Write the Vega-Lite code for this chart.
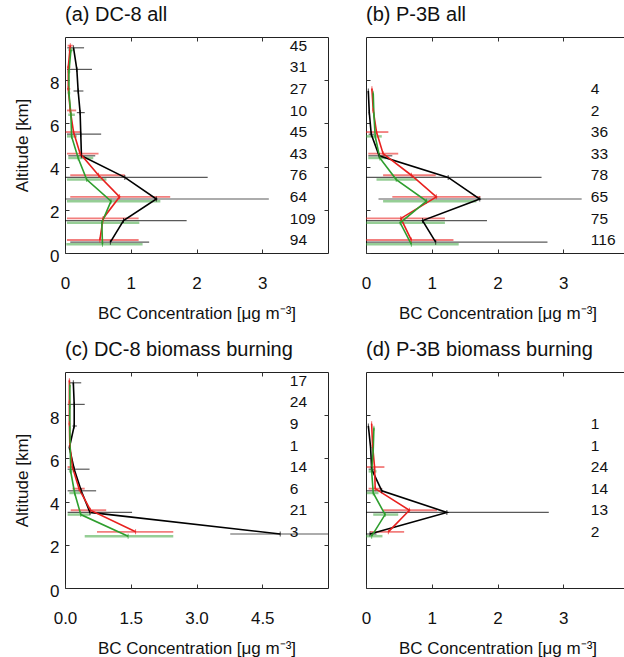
{
  "$schema": "https://vega.github.io/schema/vega-lite/v6.json",
  "padding": {"left": 13, "top": 4, "right": 0, "bottom": 0},
  "datasets": {
    "a": [
      {"s": "black", "alt": 9.5, "v": 0.13, "lo": 0.035, "hi": 0.29},
      {"s": "black", "alt": 8.5, "v": 0.18, "lo": 0.03, "hi": 0.41},
      {"s": "black", "alt": 7.5, "v": 0.2, "lo": 0.13, "hi": 0.28},
      {"s": "black", "alt": 6.5, "v": 0.23, "lo": 0.18, "hi": 0.3},
      {"s": "black", "alt": 5.5, "v": 0.24, "lo": 0.03, "hi": 0.55},
      {"s": "black", "alt": 4.5, "v": 0.25, "lo": 0.05, "hi": 0.46},
      {"s": "black", "alt": 3.5, "v": 0.91, "lo": 0.0, "hi": 2.17},
      {"s": "black", "alt": 2.5, "v": 1.39, "lo": 0.0, "hi": 3.1},
      {"s": "black", "alt": 1.5, "v": 0.89, "lo": 0.0, "hi": 1.85},
      {"s": "black", "alt": 0.5, "v": 0.69, "lo": 0.08, "hi": 1.28},
      {"s": "red", "alt": 9.6, "v": 0.08, "lo": 0.04, "hi": 0.12},
      {"s": "red", "alt": 8.6, "v": 0.05, "lo": 0.03, "hi": 0.08},
      {"s": "red", "alt": 7.6, "v": 0.05, "lo": 0.03, "hi": 0.08},
      {"s": "red", "alt": 6.6, "v": 0.08, "lo": 0.03, "hi": 0.17},
      {"s": "red", "alt": 5.6, "v": 0.13, "lo": 0.01, "hi": 0.24},
      {"s": "red", "alt": 4.6, "v": 0.23, "lo": 0.03, "hi": 0.51},
      {"s": "red", "alt": 3.6, "v": 0.51, "lo": 0.08, "hi": 0.91},
      {"s": "red", "alt": 2.6, "v": 0.83, "lo": 0.08, "hi": 1.6},
      {"s": "red", "alt": 1.6, "v": 0.58, "lo": 0.03, "hi": 1.12},
      {"s": "red", "alt": 0.6, "v": 0.53, "lo": 0.03, "hi": 1.12},
      {"s": "green", "alt": 9.4, "v": 0.09, "lo": 0.05, "hi": 0.12},
      {"s": "green", "alt": 8.4, "v": 0.06, "lo": 0.04, "hi": 0.08},
      {"s": "green", "alt": 7.4, "v": 0.06, "lo": 0.04, "hi": 0.08},
      {"s": "green", "alt": 6.4, "v": 0.09, "lo": 0.05, "hi": 0.15},
      {"s": "green", "alt": 5.4, "v": 0.1, "lo": 0.03, "hi": 0.18},
      {"s": "green", "alt": 4.4, "v": 0.2, "lo": 0.05, "hi": 0.43},
      {"s": "green", "alt": 3.4, "v": 0.33, "lo": 0.03, "hi": 0.63},
      {"s": "green", "alt": 2.4, "v": 0.7, "lo": 0.03, "hi": 1.45},
      {"s": "green", "alt": 1.4, "v": 0.56, "lo": 0.03, "hi": 1.13},
      {"s": "green", "alt": 0.4, "v": 0.57, "lo": 0.02, "hi": 1.18}
    ],
    "an": [
      {"alt": 9.5, "n": "45"}, {"alt": 8.5, "n": "31"}, {"alt": 7.5, "n": "27"},
      {"alt": 6.5, "n": "10"}, {"alt": 5.5, "n": "45"}, {"alt": 4.5, "n": "43"},
      {"alt": 3.5, "n": "76"}, {"alt": 2.5, "n": "64"}, {"alt": 1.5, "n": "109"},
      {"alt": 0.5, "n": "94"}
    ],
    "b": [
      {"s": "black", "alt": 7.5, "v": 0.035, "lo": 0.03, "hi": 0.04},
      {"s": "black", "alt": 6.5, "v": 0.05, "lo": 0.04, "hi": 0.06},
      {"s": "black", "alt": 5.5, "v": 0.08, "lo": 0.04, "hi": 0.12},
      {"s": "black", "alt": 4.5, "v": 0.2, "lo": 0.035, "hi": 0.4},
      {"s": "black", "alt": 3.5, "v": 1.25, "lo": 0.0, "hi": 2.67},
      {"s": "black", "alt": 2.5, "v": 1.73, "lo": 0.19, "hi": 3.28},
      {"s": "black", "alt": 1.5, "v": 0.86, "lo": 0.0, "hi": 1.84},
      {"s": "black", "alt": 0.5, "v": 1.06, "lo": 0.0, "hi": 2.76},
      {"s": "red", "alt": 7.6, "v": 0.09, "lo": 0.08, "hi": 0.1},
      {"s": "red", "alt": 6.6, "v": 0.11, "lo": 0.1, "hi": 0.12},
      {"s": "red", "alt": 5.6, "v": 0.16, "lo": 0.0, "hi": 0.34},
      {"s": "red", "alt": 4.6, "v": 0.26, "lo": 0.035, "hi": 0.49},
      {"s": "red", "alt": 3.6, "v": 0.69, "lo": 0.26, "hi": 1.06},
      {"s": "red", "alt": 2.6, "v": 1.07, "lo": 0.4, "hi": 1.74},
      {"s": "red", "alt": 1.6, "v": 0.53, "lo": 0.0, "hi": 1.2},
      {"s": "red", "alt": 0.6, "v": 0.69, "lo": 0.0, "hi": 1.33},
      {"s": "green", "alt": 7.4, "v": 0.11, "lo": 0.1, "hi": 0.12},
      {"s": "green", "alt": 6.4, "v": 0.12, "lo": 0.11, "hi": 0.13},
      {"s": "green", "alt": 5.4, "v": 0.14, "lo": 0.0, "hi": 0.24},
      {"s": "green", "alt": 4.4, "v": 0.21, "lo": 0.035, "hi": 0.31},
      {"s": "green", "alt": 3.4, "v": 0.46, "lo": 0.16, "hi": 0.77},
      {"s": "green", "alt": 2.4, "v": 0.92, "lo": 0.26, "hi": 1.68},
      {"s": "green", "alt": 1.4, "v": 0.52, "lo": 0.0, "hi": 1.2},
      {"s": "green", "alt": 0.4, "v": 0.69, "lo": 0.0, "hi": 1.41}
    ],
    "bn": [
      {"alt": 7.5, "n": "4"}, {"alt": 6.5, "n": "2"}, {"alt": 5.5, "n": "36"},
      {"alt": 4.5, "n": "33"}, {"alt": 3.5, "n": "78"}, {"alt": 2.5, "n": "65"},
      {"alt": 1.5, "n": "75"}, {"alt": 0.5, "n": "116"}
    ],
    "c": [
      {"s": "black", "alt": 9.5, "v": 0.19, "lo": 0.1, "hi": 0.37},
      {"s": "black", "alt": 8.5, "v": 0.21, "lo": 0.06, "hi": 0.45},
      {"s": "black", "alt": 7.5, "v": 0.21, "lo": 0.17, "hi": 0.27},
      {"s": "black", "alt": 6.5, "v": 0.1, "lo": 0.09, "hi": 0.11},
      {"s": "black", "alt": 5.5, "v": 0.21, "lo": 0.06, "hi": 0.56},
      {"s": "black", "alt": 4.5, "v": 0.37, "lo": 0.06, "hi": 0.71},
      {"s": "black", "alt": 3.5, "v": 0.57, "lo": 0.06, "hi": 1.53},
      {"s": "black", "alt": 2.5, "v": 4.91, "lo": 3.77, "hi": 6.3},
      {"s": "red", "alt": 9.6, "v": 0.1, "lo": 0.08, "hi": 0.12},
      {"s": "red", "alt": 8.6, "v": 0.1, "lo": 0.08, "hi": 0.12},
      {"s": "red", "alt": 7.6, "v": 0.1, "lo": 0.08, "hi": 0.12},
      {"s": "red", "alt": 6.6, "v": 0.11, "lo": 0.09, "hi": 0.13},
      {"s": "red", "alt": 5.6, "v": 0.17, "lo": 0.06, "hi": 0.21},
      {"s": "red", "alt": 4.6, "v": 0.32, "lo": 0.17, "hi": 0.45},
      {"s": "red", "alt": 3.6, "v": 0.58, "lo": 0.13, "hi": 0.94},
      {"s": "red", "alt": 2.6, "v": 1.61, "lo": 0.73, "hi": 2.47},
      {"s": "green", "alt": 9.4, "v": 0.11, "lo": 0.1, "hi": 0.12},
      {"s": "green", "alt": 8.4, "v": 0.11, "lo": 0.1, "hi": 0.12},
      {"s": "green", "alt": 7.4, "v": 0.11, "lo": 0.1, "hi": 0.12},
      {"s": "green", "alt": 6.4, "v": 0.12, "lo": 0.11, "hi": 0.13},
      {"s": "green", "alt": 5.4, "v": 0.13, "lo": 0.09, "hi": 0.17},
      {"s": "green", "alt": 4.4, "v": 0.22, "lo": 0.1, "hi": 0.36},
      {"s": "green", "alt": 3.4, "v": 0.36, "lo": 0.06, "hi": 0.58},
      {"s": "green", "alt": 2.4, "v": 1.44, "lo": 0.45, "hi": 2.47}
    ],
    "cn": [
      {"alt": 9.5, "n": "17"}, {"alt": 8.5, "n": "24"}, {"alt": 7.5, "n": "9"},
      {"alt": 6.5, "n": "1"}, {"alt": 5.5, "n": "14"}, {"alt": 4.5, "n": "6"},
      {"alt": 3.5, "n": "21"}, {"alt": 2.5, "n": "3"}
    ],
    "d": [
      {"s": "black", "alt": 7.5, "v": 0.036, "lo": 0.03, "hi": 0.04},
      {"s": "black", "alt": 6.5, "v": 0.07, "lo": 0.06, "hi": 0.08},
      {"s": "black", "alt": 5.5, "v": 0.086, "lo": 0.04, "hi": 0.14},
      {"s": "black", "alt": 4.5, "v": 0.24, "lo": 0.01, "hi": 0.26},
      {"s": "black", "alt": 3.5, "v": 1.23, "lo": 0.0, "hi": 2.78},
      {"s": "black", "alt": 2.5, "v": 0.06, "lo": 0.0, "hi": 0.16},
      {"s": "red", "alt": 7.6, "v": 0.086, "lo": 0.08, "hi": 0.09},
      {"s": "red", "alt": 6.6, "v": 0.1, "lo": 0.09, "hi": 0.11},
      {"s": "red", "alt": 5.6, "v": 0.13, "lo": 0.01, "hi": 0.28},
      {"s": "red", "alt": 4.6, "v": 0.14, "lo": 0.04, "hi": 0.24},
      {"s": "red", "alt": 3.6, "v": 0.66, "lo": 0.26, "hi": 1.08},
      {"s": "red", "alt": 2.6, "v": 0.34, "lo": 0.06, "hi": 0.58},
      {"s": "green", "alt": 7.4, "v": 0.12, "lo": 0.11, "hi": 0.13},
      {"s": "green", "alt": 6.4, "v": 0.11, "lo": 0.1, "hi": 0.12},
      {"s": "green", "alt": 5.4, "v": 0.086, "lo": 0.04, "hi": 0.16},
      {"s": "green", "alt": 4.4, "v": 0.11, "lo": 0.01, "hi": 0.19},
      {"s": "green", "alt": 3.4, "v": 0.29, "lo": 0.11, "hi": 0.49},
      {"s": "green", "alt": 2.4, "v": 0.086, "lo": 0.0, "hi": 0.25}
    ],
    "dn": [
      {"alt": 7.5, "n": "1"}, {"alt": 6.5, "n": "1"}, {"alt": 5.5, "n": "24"},
      {"alt": 4.5, "n": "14"}, {"alt": 3.5, "n": "13"}, {"alt": 2.5, "n": "2"}
    ]
  },
  "vconcat": [
    {
      "hconcat": [
        {
          "title": "(a) DC-8 all",
          "width": 263, "height": 216,
          "layer": [
            {"data": {"name": "a"}, "mark": {"type": "rule", "clip": true},
             "encoding": {
               "y": {"field": "alt", "type": "quantitative", "scale": {"domain": [0, 10]}, "axis": {"orient": "left", "values": [0, 2, 4, 6, 8], "title": "Altitude [km]", "labelPadding": 10, "titlePadding": 18, "labelOffset": 3}},
               "x": {"field": "lo", "type": "quantitative", "scale": {"domain": [0, 4]}, "axis": {"orient": "bottom", "values": [0, 1, 2, 3], "title": "BC Concentration [μg m⁻³]", "labelPadding": 26, "titlePadding": 14, "labelFlush": false}},
               "x2": {"field": "hi"},
               "color": {"field": "s", "type": "nominal", "scale": {"domain": ["black", "red", "green"], "range": ["#000000", "#e8201e", "#2e9e2e"]}, "legend": null},
               "opacity": {"field": "s", "type": "nominal", "scale": {"domain": ["black", "red", "green"], "range": [0.65, 0.5, 0.5]}, "legend": null},
               "strokeWidth": {"field": "s", "type": "nominal", "scale": {"domain": ["black", "red", "green"], "range": [1.2, 2.5, 2.5]}, "legend": null}
             }},
            {"data": {"name": "a"}, "mark": {"type": "line", "strokeWidth": 1.6, "clip": true},
             "encoding": {
               "y": {"field": "alt", "type": "quantitative", "axis": {"orient": "right", "values": [2, 4, 6, 8], "labels": false, "title": null}},
               "x": {"field": "v", "type": "quantitative", "axis": {"orient": "top", "values": [1, 2, 3], "labels": false, "title": null}},
               "order": {"field": "alt", "type": "quantitative"},
               "color": {"field": "s", "type": "nominal", "legend": null}
             }},
            {"data": {"name": "a"}, "mark": {"type": "tick", "orient": "vertical", "size": 5, "thickness": 1, "clip": true},
             "encoding": {
               "y": {"field": "alt", "type": "quantitative", "axis": null},
               "x": {"field": "v", "type": "quantitative", "axis": null},
               "color": {"field": "s", "type": "nominal", "legend": null}
             }},
            {"data": {"name": "an"}, "mark": {"type": "text", "align": "left", "baseline": "middle", "dy": -2, "fontSize": 15.5},
             "encoding": {
               "x": {"datum": 3.42, "type": "quantitative", "axis": null},
               "y": {"field": "alt", "type": "quantitative", "axis": null},
               "text": {"field": "n"}
             }}
          ],
          "resolve": {"axis": {"x": "independent", "y": "independent"}}
        },
        {
          "title": "(b) P-3B all",
          "width": 263, "height": 216,
          "layer": [
            {"data": {"name": "b"}, "mark": {"type": "rule", "clip": true},
             "encoding": {
               "y": {"field": "alt", "type": "quantitative", "scale": {"domain": [0, 10]}, "axis": {"orient": "left", "values": [0, 2, 4, 6, 8], "labels": false, "title": null}},
               "x": {"field": "lo", "type": "quantitative", "scale": {"domain": [0, 4]}, "axis": {"orient": "bottom", "values": [0, 1, 2, 3], "title": "BC Concentration [μg m⁻³]", "labelPadding": 26, "titlePadding": 14, "labelFlush": false}},
               "x2": {"field": "hi"},
               "color": {"field": "s", "type": "nominal", "scale": {"domain": ["black", "red", "green"], "range": ["#000000", "#e8201e", "#2e9e2e"]}, "legend": null},
               "opacity": {"field": "s", "type": "nominal", "scale": {"domain": ["black", "red", "green"], "range": [0.65, 0.5, 0.5]}, "legend": null},
               "strokeWidth": {"field": "s", "type": "nominal", "scale": {"domain": ["black", "red", "green"], "range": [1.2, 2.5, 2.5]}, "legend": null}
             }},
            {"data": {"name": "b"}, "mark": {"type": "line", "strokeWidth": 1.6, "clip": true},
             "encoding": {
               "y": {"field": "alt", "type": "quantitative", "axis": {"orient": "right", "values": [2, 4, 6, 8], "labels": false, "title": null}},
               "x": {"field": "v", "type": "quantitative", "axis": {"orient": "top", "values": [1, 2, 3], "labels": false, "title": null}},
               "order": {"field": "alt", "type": "quantitative"},
               "color": {"field": "s", "type": "nominal", "legend": null}
             }},
            {"data": {"name": "b"}, "mark": {"type": "tick", "orient": "vertical", "size": 5, "thickness": 1, "clip": true},
             "encoding": {
               "y": {"field": "alt", "type": "quantitative", "axis": null},
               "x": {"field": "v", "type": "quantitative", "axis": null},
               "color": {"field": "s", "type": "nominal", "legend": null}
             }},
            {"data": {"name": "bn"}, "mark": {"type": "text", "align": "left", "baseline": "middle", "dy": -2, "fontSize": 15.5},
             "encoding": {
               "x": {"datum": 3.42, "type": "quantitative", "axis": null},
               "y": {"field": "alt", "type": "quantitative", "axis": null},
               "text": {"field": "n"}
             }}
          ],
          "resolve": {"axis": {"x": "independent", "y": "independent"}}
        }
      ],
      "spacing": 31
    },
    {
      "hconcat": [
        {
          "title": "(c) DC-8 biomass burning",
          "width": 263, "height": 216,
          "layer": [
            {"data": {"name": "c"}, "mark": {"type": "rule", "clip": true},
             "encoding": {
               "y": {"field": "alt", "type": "quantitative", "scale": {"domain": [0, 10]}, "axis": {"orient": "left", "values": [0, 2, 4, 6, 8], "title": "Altitude [km]", "labelPadding": 10, "titlePadding": 18, "labelOffset": 3}},
               "x": {"field": "lo", "type": "quantitative", "scale": {"domain": [0, 6]}, "axis": {"orient": "bottom", "values": [0, 1.5, 3, 4.5], "format": ".1f", "title": "BC Concentration [μg m⁻³]", "labelPadding": 26, "titlePadding": 14, "labelFlush": false}},
               "x2": {"field": "hi"},
               "color": {"field": "s", "type": "nominal", "scale": {"domain": ["black", "red", "green"], "range": ["#000000", "#e8201e", "#2e9e2e"]}, "legend": null},
               "opacity": {"field": "s", "type": "nominal", "scale": {"domain": ["black", "red", "green"], "range": [0.65, 0.5, 0.5]}, "legend": null},
               "strokeWidth": {"field": "s", "type": "nominal", "scale": {"domain": ["black", "red", "green"], "range": [1.2, 2.5, 2.5]}, "legend": null}
             }},
            {"data": {"name": "c"}, "mark": {"type": "line", "strokeWidth": 1.6, "clip": true},
             "encoding": {
               "y": {"field": "alt", "type": "quantitative", "axis": {"orient": "right", "values": [2, 4, 6, 8], "labels": false, "title": null}},
               "x": {"field": "v", "type": "quantitative", "axis": {"orient": "top", "values": [1.5, 3, 4.5], "labels": false, "title": null}},
               "order": {"field": "alt", "type": "quantitative"},
               "color": {"field": "s", "type": "nominal", "legend": null}
             }},
            {"data": {"name": "c"}, "mark": {"type": "tick", "orient": "vertical", "size": 5, "thickness": 1, "clip": true},
             "encoding": {
               "y": {"field": "alt", "type": "quantitative", "axis": null},
               "x": {"field": "v", "type": "quantitative", "axis": null},
               "color": {"field": "s", "type": "nominal", "legend": null}
             }},
            {"data": {"name": "cn"}, "mark": {"type": "text", "align": "left", "baseline": "middle", "dy": -2, "fontSize": 15.5},
             "encoding": {
               "x": {"datum": 5.13, "type": "quantitative", "axis": null},
               "y": {"field": "alt", "type": "quantitative", "axis": null},
               "text": {"field": "n"}
             }}
          ],
          "resolve": {"axis": {"x": "independent", "y": "independent"}}
        },
        {
          "title": "(d) P-3B biomass burning",
          "width": 263, "height": 216,
          "layer": [
            {"data": {"name": "d"}, "mark": {"type": "rule", "clip": true},
             "encoding": {
               "y": {"field": "alt", "type": "quantitative", "scale": {"domain": [0, 10]}, "axis": {"orient": "left", "values": [0, 2, 4, 6, 8], "labels": false, "title": null}},
               "x": {"field": "lo", "type": "quantitative", "scale": {"domain": [0, 4]}, "axis": {"orient": "bottom", "values": [0, 1, 2, 3], "title": "BC Concentration [μg m⁻³]", "labelPadding": 26, "titlePadding": 14, "labelFlush": false}},
               "x2": {"field": "hi"},
               "color": {"field": "s", "type": "nominal", "scale": {"domain": ["black", "red", "green"], "range": ["#000000", "#e8201e", "#2e9e2e"]}, "legend": null},
               "opacity": {"field": "s", "type": "nominal", "scale": {"domain": ["black", "red", "green"], "range": [0.65, 0.5, 0.5]}, "legend": null},
               "strokeWidth": {"field": "s", "type": "nominal", "scale": {"domain": ["black", "red", "green"], "range": [1.2, 2.5, 2.5]}, "legend": null}
             }},
            {"data": {"name": "d"}, "mark": {"type": "line", "strokeWidth": 1.6, "clip": true},
             "encoding": {
               "y": {"field": "alt", "type": "quantitative", "axis": {"orient": "right", "values": [2, 4, 6, 8], "labels": false, "title": null}},
               "x": {"field": "v", "type": "quantitative", "axis": {"orient": "top", "values": [1, 2, 3], "labels": false, "title": null}},
               "order": {"field": "alt", "type": "quantitative"},
               "color": {"field": "s", "type": "nominal", "legend": null}
             }},
            {"data": {"name": "d"}, "mark": {"type": "tick", "orient": "vertical", "size": 5, "thickness": 1, "clip": true},
             "encoding": {
               "y": {"field": "alt", "type": "quantitative", "axis": null},
               "x": {"field": "v", "type": "quantitative", "axis": null},
               "color": {"field": "s", "type": "nominal", "legend": null}
             }},
            {"data": {"name": "dn"}, "mark": {"type": "text", "align": "left", "baseline": "middle", "dy": -2, "fontSize": 15.5},
             "encoding": {
               "x": {"datum": 3.42, "type": "quantitative", "axis": null},
               "y": {"field": "alt", "type": "quantitative", "axis": null},
               "text": {"field": "n"}
             }}
          ],
          "resolve": {"axis": {"x": "independent", "y": "independent"}}
        }
      ],
      "spacing": 31
    }
  ],
  "spacing": 17,
  "config": {
    "font": "Liberation Sans",
    "view": {"stroke": "#222222", "strokeWidth": 1},
    "axis": {"tickSize": -4, "tickColor": "#333333", "domain": false, "grid": false, "labelFontSize": 17, "titleFontSize": 17, "titleFontWeight": "normal", "labelColor": "#111111", "titleColor": "#111111", "minExtent": 0},
    "title": {"fontSize": 20, "fontWeight": "normal", "anchor": "start", "frame": "group", "offset": 12, "color": "#111111"},
    "text": {"color": "#111111"}
  }
}
